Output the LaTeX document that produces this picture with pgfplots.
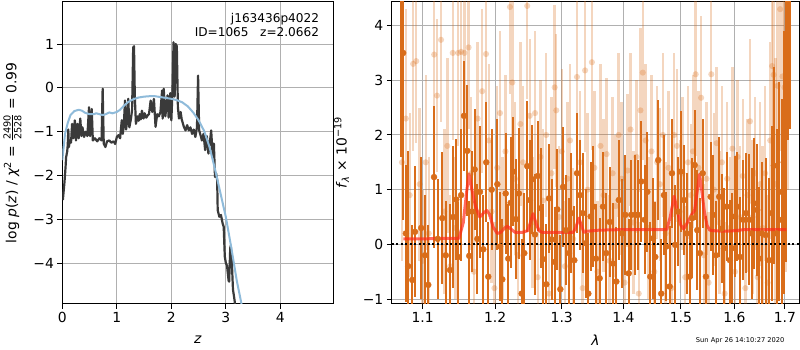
\documentclass[border=0pt]{standalone}
\usepackage{fontspec}
\setmainfont{DejaVu Sans}
\usepackage{amsmath}
\usepackage{pgfplots}
\pgfplotsset{compat=1.18}
\usepackage{pgfplotstable}

\definecolor{darko}{HTML}{D96D1A}
\definecolor{bluel}{HTML}{8FBBDA}
\definecolor{blk}{HTML}{3A3A3A}
\definecolor{gridc}{HTML}{B0B0B0}
\definecolor{redm}{HTML}{FF2A1A}

\pgfplotstableread{
x y
0.01 -2.56
0.04 -2.15
0.06 -1.80
0.07 -1.58
0.09 -1.45
0.10 -1.30
0.11 -0.95
0.12 -1.35
0.14 -1.20
0.16 -1.25
0.18 -0.82
0.20 -1.15
0.23 -0.74
0.25 -1.20
0.28 -0.82
0.30 -1.15
0.33 -0.70
0.35 -1.10
0.37 -0.90
0.40 -1.12
0.43 -1.00
0.46 -1.10
0.49 -0.44
0.51 -1.10
0.54 -0.48
0.56 -1.20
0.60 -1.15
0.64 -1.22
0.68 -1.15
0.72 -1.20
0.74 -0.02
0.76 -1.27
0.79 -1.35
0.82 -1.22
0.86 -1.20
0.90 -1.25
0.94 -1.22
0.97 -1.28
1.00 -1.12
1.03 -1.08
1.06 -1.15
1.09 -0.74
1.11 -1.05
1.13 -0.80
1.15 -0.29
1.17 -0.95
1.19 -0.75
1.21 -0.25
1.23 -0.90
1.26 -0.70
1.28 -0.50
1.30 0.92
1.315 0.95
1.33 -0.20
1.35 -0.82
1.38 -0.65
1.40 -0.75
1.42 -0.60
1.44 -0.72
1.46 -0.52
1.49 -0.70
1.51 -0.58
1.54 -0.68
1.57 -0.62
1.59 -0.60
1.62 -0.29
1.65 -0.55
1.68 -0.25
1.71 -0.89
1.74 -0.60
1.77 -0.65
1.80 -0.55
1.83 -0.06
1.84 -0.70
1.86 -0.02
1.89 -0.65
1.93 -0.17
1.95 -0.68
1.98 -0.12
2.00 -0.74
2.02 -0.10
2.04 1.04
2.06 -0.20
2.08 1.00
2.10 0.95
2.12 -0.44
2.14 -0.70
2.17 -0.55
2.19 -0.72
2.23 -0.89
2.26 -0.97
2.29 -0.85
2.32 -0.97
2.35 -0.90
2.38 -1.05
2.41 -0.95
2.44 -1.12
2.47 -0.90
2.49 0.28
2.51 -0.97
2.54 -1.10
2.56 -1.20
2.59 -1.05
2.62 -1.42
2.65 -1.10
2.68 -1.50
2.71 -1.20
2.73 -0.97
2.76 -1.58
2.78 -1.27
2.80 -2.03
2.82 -1.95
2.84 -2.10
2.85 -2.79
2.88 -2.94
2.91 -2.90
2.94 -3.09
2.96 -3.17
2.98 -3.85
3.00 -4.00
3.02 -4.05
3.05 -4.40
3.06 -4.42
3.08 -3.65
3.09 -3.60
3.11 -4.00
3.13 -4.60
3.16 -4.85
3.17 -5.00
}\pzdata

\pgfplotstableread{
x y
0.00 -1.65
0.05 -1.05
0.10 -0.80
0.15 -0.62
0.22 -0.53
0.30 -0.50
0.36 -0.52
0.42 -0.57
0.50 -0.60
0.58 -0.60
0.62 -0.58
0.68 -0.60
0.74 -0.62
0.80 -0.60
0.86 -0.56
0.92 -0.58
1.00 -0.55
1.06 -0.50
1.12 -0.42
1.20 -0.33
1.30 -0.26
1.40 -0.22
1.50 -0.20
1.60 -0.19
1.70 -0.19
1.80 -0.21
1.90 -0.23
2.00 -0.25
2.10 -0.28
2.20 -0.33
2.30 -0.42
2.40 -0.56
2.50 -0.74
2.60 -0.98
2.70 -1.35
2.80 -1.85
2.90 -2.40
3.00 -2.95
3.10 -3.65
3.20 -4.40
3.29 -4.95
}\pzprior

\pgfplotstableread{
x y e
1.0715 4.50 2.90
1.0745 3.50 3.05
1.0780 0.20 1.25
1.0810 -0.40 2.10
1.0863 -0.65 1.00
1.0899 0.23 1.20
1.0980 0.30 1.30
1.1030 -0.20 1.10
1.1074 -0.74 1.10
1.1151 1.23 1.30
1.1200 0.10 1.10
1.1262 0.48 1.20
1.1310 -0.20 1.00
1.1367 -0.47 1.20
1.1410 0.50 1.30
1.1453 0.82 1.10
1.1480 -0.23 1.00
1.1520 0.90 1.20
1.1560 2.35 1.00
1.1606 1.71 1.20
1.1633 -0.21 1.00
1.1670 0.60 1.10
1.1709 1.37 1.10
1.1746 0.10 1.00
1.1784 0.96 1.20
1.1831 -0.09 1.00
1.1873 1.50 1.10
1.1902 -0.59 1.00
1.1951 1.00 1.10
1.2032 1.10 1.20
1.2071 -0.04 1.00
1.2104 -0.64 1.10
1.2154 0.93 1.10
1.2191 -0.26 1.00
1.2226 0.76 1.20
1.2264 1.33 1.00
1.2304 0.46 1.10
1.2349 0.93 1.20
1.2389 -0.90 1.00
1.2428 -0.16 1.10
1.2472 1.43 1.20
1.2513 0.81 1.10
1.2548 1.19 1.00
1.2589 0.18 1.10
1.2630 1.25 1.00
1.2676 0.66 1.10
1.2711 -0.27 1.00
1.2762 -0.73 1.10
1.2803 0.84 1.00
1.2844 0.09 1.10
1.2891 -0.32 1.00
1.2931 0.64 1.10
1.2978 -0.82 1.00
1.3020 1.05 1.10
1.3067 0.26 1.00
1.3114 -0.16 1.00
1.3150 0.57 1.10
1.3198 -0.29 1.00
1.3241 1.30 1.10
1.3288 0.90 1.00
1.3331 0.57 1.10
1.3380 0.02 1.00
1.3422 -0.90 1.10
1.3460 0.51 1.00
1.3502 0.69 1.10
1.3547 -0.26 1.00
1.3606 -0.62 1.10
1.3660 0.69 1.00
1.3715 -0.16 1.10
1.3771 0.41 1.00
1.3826 -0.35 1.10
1.3882 -0.68 1.00
1.3922 0.81 1.10
1.3977 0.20 1.00
1.4032 0.54 1.10
1.4090 -0.53 1.00
1.4133 0.54 1.00
1.4202 0.54 1.10
1.4248 0.54 1.00
1.4304 1.15 1.10
1.4363 0.45 1.00
1.4408 0.96 1.10
1.4459 -0.59 1.00
1.4506 0.11 1.10
1.4547 -0.23 1.00
1.4599 1.54 1.10
1.4652 -0.90 1.00
1.4699 0.90 1.10
1.4740 -0.04 1.00
1.4800 -0.77 1.10
1.4841 1.30 1.00
1.4900 -0.01 1.10
1.4948 0.60 1.00
1.4997 1.33 1.10
1.5057 0.81 1.00
1.5106 0.20 1.10
1.5161 -0.59 1.00
1.5208 0.48 1.10
1.5252 1.45 1.00
1.5300 0.26 1.10
1.5349 -0.16 1.00
1.5400 1.30 1.00
1.5460 -0.59 1.10
1.5547 0.87 1.00
1.5597 0.54 1.10
1.5647 -0.20 1.00
1.5709 0.87 1.10
1.5754 0.29 1.00
1.5798 -0.07 1.10
1.5849 0.69 1.00
1.5912 -0.29 1.10
1.5956 -0.07 1.00
1.6008 0.51 1.10
1.6052 0.69 1.00
1.6104 -0.23 1.10
1.6168 0.45 1.10
1.6221 0.57 1.10
1.6285 0.45 1.20
1.6332 0.20 1.20
1.6377 0.75 1.20
1.6442 0.63 1.20
1.6482 -0.26 1.30
1.6535 0.20 1.30
1.6608 0.17 1.40
1.6681 -0.29 1.50
1.6729 0.57 1.60
1.6775 1.44 1.80
1.6829 0.20 1.90
1.6883 0.96 2.00
1.6931 0.45 2.20
1.6975 1.50 2.40
1.7019 2.27 2.60
1.7060 4.50 2.60
1.7110 4.80 2.70
}\darkdata

\pgfplotstableread{
x y e
1.073 1.50 1.80
1.078 2.30 2.00
1.083 0.90 1.50
1.0875 3.30 1.60
1.0915 3.35 1.50
1.096 1.10 1.40
1.100 -0.30 1.30
1.104 1.50 1.60
1.108 0.20 1.40
1.1153 3.47 1.30
1.119 2.72 1.40
1.1245 3.74 1.50
1.129 0.60 1.50
1.133 1.80 1.60
1.137 -0.40 1.30
1.1405 3.50 1.60
1.144 0.30 1.30
1.148 3.50 1.70
1.152 3.52 1.60
1.1565 3.50 1.50
1.1624 3.60 1.50
1.166 1.30 1.40
1.170 -0.50 1.30
1.175 2.30 1.40
1.1815 2.80 1.50
1.187 3.48 1.60
1.191 1.90 1.40
1.195 0.60 1.30
1.199 -0.80 1.20
1.203 1.40 1.50
1.207 2.40 1.50
1.211 0.30 1.30
1.215 1.70 1.40
1.2216 4.34 1.60
1.225 2.96 1.50
1.229 1.20 1.40
1.233 -0.20 1.30
1.237 2.20 1.50
1.241 1.50 1.40
1.2472 4.36 1.70
1.251 2.35 1.40
1.255 0.40 1.20
1.259 2.40 1.50
1.263 -0.60 1.30
1.267 1.60 1.40
1.271 0.80 1.30
1.276 2.00 1.50
1.280 -0.90 1.20
1.284 1.30 1.40
1.289 2.87 1.50
1.2915 2.45 1.40
1.296 0.50 1.30
1.300 1.70 1.50
1.305 -0.40 1.20
1.309 1.20 1.40
1.313 1.90 1.40
1.318 0.10 1.30
1.324 3.06 1.50
1.329 1.50 1.30
1.333 -0.80 1.20
1.337 3.18 1.50
1.341 1.00 1.40
1.348 3.33 1.60
1.352 1.40 1.40
1.357 -0.50 1.30
1.362 1.80 1.50
1.367 0.90 1.40
1.372 1.65 1.40
1.377 -0.30 1.20
1.382 1.30 1.40
1.387 0.70 1.30
1.392 2.00 1.50
1.397 1.20 1.40
1.402 -0.70 1.30
1.407 1.35 1.40
1.412 2.10 1.40
1.417 0.40 1.30
1.422 1.60 1.40
1.426 -0.90 1.30
1.429 2.45 1.50
1.433 3.14 1.60
1.438 1.90 1.40
1.443 0.30 1.30
1.448 1.70 1.40
1.453 -0.50 1.30
1.458 1.50 1.40
1.463 1.10 1.40
1.468 2.00 1.50
1.473 0.20 1.30
1.478 1.40 1.40
1.483 -0.80 1.20
1.488 2.00 1.50
1.493 1.80 1.40
1.498 0.60 1.30
1.503 1.30 1.40
1.508 -0.60 1.30
1.513 1.50 1.40
1.518 0.90 1.30
1.522 1.70 1.40
1.527 3.11 1.50
1.532 1.40 1.40
1.537 2.68 1.50
1.542 -0.20 1.30
1.547 1.20 1.40
1.551 -0.70 1.30
1.556 3.11 1.50
1.561 1.00 1.40
1.566 1.85 1.40
1.571 0.40 1.30
1.576 1.50 1.40
1.581 -0.90 1.30
1.586 1.20 1.40
1.591 0.30 1.30
1.596 1.75 1.50
1.601 -0.50 1.30
1.606 1.60 1.40
1.611 0.50 1.30
1.616 1.25 1.40
1.621 -0.80 1.30
1.625 0.90 1.40
1.630 2.25 1.50
1.635 0.50 1.40
1.640 1.30 1.40
1.645 -0.60 1.40
1.650 1.10 1.50
1.655 0.30 1.50
1.660 1.30 1.60
1.665 -0.70 1.60
1.670 1.90 1.80
1.674 3.26 2.00
1.677 3.10 2.20
1.681 1.10 2.30
1.685 2.90 2.50
1.690 4.30 2.60
1.695 3.07 2.60
1.699 2.87 2.80
1.702 2.29 2.80
1.706 4.00 3.00
}\lightdata

\pgfplotstableread{
x y
1.0747 0.10
1.100 0.10
1.130 0.11
1.149 0.11
1.155 0.40
1.160 1.00
1.163 1.29
1.167 1.00
1.172 0.70
1.178 0.50
1.184 0.58
1.188 0.62
1.192 0.55
1.197 0.32
1.203 0.20
1.208 0.22
1.214 0.30
1.218 0.33
1.223 0.28
1.229 0.22
1.240 0.22
1.248 0.25
1.252 0.40
1.256 0.56
1.260 0.40
1.265 0.25
1.270 0.22
1.300 0.22
1.318 0.22
1.322 0.30
1.327 0.48
1.331 0.35
1.335 0.22
1.340 0.24
1.360 0.26
1.400 0.27
1.450 0.27
1.475 0.27
1.481 0.50
1.488 0.88
1.494 0.60
1.500 0.35
1.505 0.28
1.512 0.40
1.520 0.55
1.525 0.62
1.529 0.90
1.534 1.28
1.538 1.00
1.543 0.60
1.548 0.35
1.553 0.26
1.560 0.25
1.580 0.24
1.600 0.25
1.620 0.27
1.650 0.27
1.703 0.27
}\modeldata

\pgfplotsset{
  mpl/.style={
    scale only axis,
    axis line style={line width=1pt},
    grid=major,
    major grid style={gridc, line width=1pt},
    tick style={black, line width=1pt},
    major tick length=4.9pt,
    tick align=outside,
    xtick pos=bottom, ytick pos=left,
    tick label style={font=\fontsize{13.9}{16}\selectfont},
    label style={font=\fontsize{13.9}{16}\selectfont},
    /pgf/number format/assume math mode=true,
  }
}

\begin{document}
\begin{tikzpicture}
\useasboundingbox (0,0) rectangle (800pt,350pt);

\begin{axis}[mpl,
  at={(62.3pt,46pt)}, anchor=south west,
  width=271pt, height=302.5pt,
  xmin=0, xmax=4.97, ymin=-4.93, ymax=1.97,
  xtick={0,1,2,3,4}, xticklabels={0,1,2,3,4},
  ytick={-4,-3,-2,-1,0,1}, yticklabels={−4,−3,−2,−1,0,1},
  xlabel={\textit{z}},
  ylabel={log \textit{p}(\textit{z}) / \textit{χ}\textsuperscript{2} = $\frac{\text{2490}}{\text{2528}}$ = 0.99},
  xlabel style={at={(axis description cs:0.5,-0.119)}, anchor=center},
  ylabel style={at={(axis description cs:-0.184,0.5)}, anchor=center},
]
\addplot[blk, line width=2.2pt, line join=round] table[x=x,y=y] {\pzdata};
\addplot[bluel, line width=2pt, line join=round] table[x=x,y=y] {\pzprior};
\node[anchor=north east, align=right, inner sep=0pt, font=\fontsize{12.1}{14.5}\selectfont]
  at (axis description cs:0.948,0.962) {j163436p4022\\ID=1065\ \ \ z=2.0662};
\end{axis}

\begin{axis}[mpl,
  at={(391.7pt,46pt)}, anchor=south west,
  width=407.6pt, height=302.5pt,
  xmode=log, xmin=1.0598, xmax=1.7295, ymin=-1.09, ymax=4.44,
  xtick={1.1,1.2,1.3,1.4,1.5,1.6,1.7},
  xticklabels={1.1,1.2,1.3,1.4,1.5,1.6,1.7},
  xminorticks=false,
  ytick={-1,0,1,2,3,4}, yticklabels={−1,0,1,2,3,4},
  xlabel={\textit{λ}},
  ylabel={\textit{f}\textsubscript{\textit{λ}} × 10\textsuperscript{−19}},
  xlabel style={at={(axis description cs:0.5,-0.119)}, anchor=center},
  ylabel style={at={(axis description cs:-0.123,0.5)}, anchor=center},
]
\addplot[darko, only marks, mark=*, mark size=3.1pt, opacity=0.28,
  mark options={draw=none, fill=darko, draw opacity=0, fill opacity=0.28},
  error bars/.cd, y dir=both, y explicit, error mark=none,
  error bar style={line width=2.4pt, darko, opacity=0.28}]
  table[x=x, y=y, y error=e] {\lightdata};
\addplot[darko, only marks, mark=*, mark size=3.0pt,
  mark options={draw=none, fill=darko},
  error bars/.cd, y dir=both, y explicit, error mark=none,
  error bar style={line width=2.0pt, darko}]
  table[x=x, y=y, y error=e] {\darkdata};
\addplot[redm, line width=3pt, opacity=0.7, line join=round] table[x=x,y=y] {\modeldata};
\addplot[black, line width=2pt, dash pattern=on 2pt off 2.5pt] coordinates {(1.0598,0) (1.7295,0)};
\end{axis}

\node[anchor=base east, font=\fontsize{6.7}{8}\selectfont] at (788pt,7.5pt) {Sun Apr 26 14:10:27 2020};
\end{tikzpicture}
\end{document}
